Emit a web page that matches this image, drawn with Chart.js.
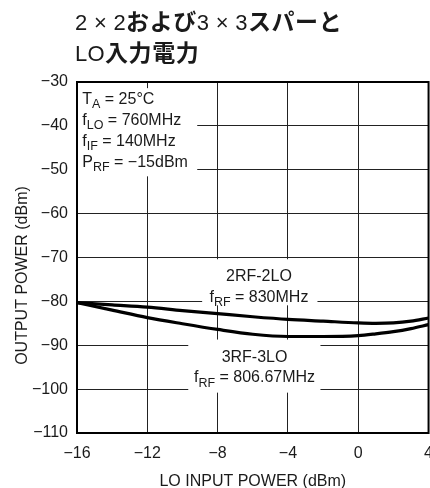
<!DOCTYPE html>
<html>
<head>
<meta charset="utf-8">
<script src="https://cdn.jsdelivr.net/npm/chart.js@4/dist/chart.umd.min.js"></script>
<style>
  html, body { margin: 0; padding: 0; background: #fff; overflow: hidden; }
  #wrap { position: relative; width: 430px; height: 488px; overflow: hidden; }
  #chart { position: absolute; left: 0; top: 0; }
  #title {
    position: absolute; left: 75px; top: 7px;
    line-height: 26px; color: #1a1a1a; white-space: nowrap;
  }
  #title .lat { font-family: "Liberation Sans", Arial, sans-serif; font-size: 22px; letter-spacing: 0.3px; }
  #title .ja  { font-family: "Noto Sans CJK JP", sans-serif; font-size: 23px; font-weight: bold; letter-spacing: 0.6px; }
</style>
</head>
<body>
<div id="wrap">
  <canvas id="chart" width="444" height="488"></canvas>
  <div id="title"><span class="lat">2 × 2</span><span class="ja">および</span><span class="lat">3 × 3</span><span class="ja">スパーと</span><br><span class="lat">LO</span><span class="ja">入力電力</span></div>
</div>
<script>
// LO drive level (dBm)
const loPower = [-16, -14, -12, -10, -8, -6, -4, -2, 0, 1, 2, 3, 4];
// 2RF-2LO spur output (dBm), fRF = 830MHz
const spur2x2 = [-80.3, -80.8, -81.3, -82.1, -82.8, -83.5, -84.1, -84.5, -84.9, -85.0, -84.9, -84.5, -83.8];
// 3RF-3LO spur output (dBm), fRF = 806.67MHz
const spur3x3 = [-80.3, -82.0, -83.7, -85.1, -86.4, -87.5, -88.0, -88.0, -87.8, -87.4, -86.9, -86.2, -85.3];

const xTicks = [-16, -12, -8, -4, 0, 4];
const yTicks = [-110, -100, -90, -80, -70, -60, -50, -40, -30];

const xTitle = 'LO INPUT POWER (dBm)';
const yTitle = 'OUTPUT POWER (dBm)';

const FONT = '"Liberation Sans", Arial, sans-serif';
const INK = '#1a1a1a';
const MAIN = '16px ' + FONT;
const SUB = '12.5px ' + FONT;

const fmt = v => (v < 0 ? '\u2212' + Math.abs(v) : String(v));

// Text blocks on white panels; anchors are in data units.
const notes = [
  { box: [-16, -31.4, -9.16, -51.5], align: 'left', x: -15.7,
    lines: [
      { y: -35.0, runs: [['T'], ['A', 1], [' = 25°C']] },
      { y: -39.7, runs: [['f'], ['LO', 1], [' = 760MHz']] },
      { y: -44.5, runs: [['f'], ['IF', 1], [' = 140MHz']] },
      { y: -49.3, runs: [['P'], ['RF', 1], [' = \u221215dBm']] }
    ] },
  { box: [-8.88, -70.4, -2.32, -80.9], align: 'center', x: -5.65,
    lines: [
      { y: -75.3, runs: [['2RF-2LO']] },
      { y: -80.1, runs: [['f'], ['RF', 1], [' = 830MHz']] }
    ] },
  { box: [-9.67, -88.7, -2.15, -100.8], align: 'center', x: -5.9,
    lines: [
      { y: -93.8, runs: [['3RF-3LO']] },
      { y: -98.4, runs: [['f'], ['RF', 1], [' = 806.67MHz']] }
    ] }
];

const notePlugin = {
  id: 'notes',
  beforeDatasetsDraw(chart) {
    const { ctx, scales: { x, y } } = chart;
    ctx.save();
    for (const n of notes) {
      const [x0, y0, x1, y1] = n.box;
      const px0 = x.getPixelForValue(x0), px1 = x.getPixelForValue(x1);
      const py0 = y.getPixelForValue(y0), py1 = y.getPixelForValue(y1);
      ctx.fillStyle = '#fff';
      ctx.fillRect(Math.min(px0, px1), Math.min(py0, py1), Math.abs(px1 - px0), Math.abs(py1 - py0));
      ctx.fillStyle = INK;
      ctx.textBaseline = 'alphabetic';
      ctx.textAlign = 'left';
      for (const line of n.lines) {
        const widths = line.runs.map(r => {
          ctx.font = r[1] ? SUB : MAIN;
          return ctx.measureText(r[0]).width;
        });
        const total = widths.reduce((a, b) => a + b, 0);
        let cx = x.getPixelForValue(n.x);
        if (n.align === 'center') cx -= total / 2;
        const by = y.getPixelForValue(line.y);
        line.runs.forEach((r, i) => {
          ctx.font = r[1] ? SUB : MAIN;
          ctx.fillText(r[0], cx, r[1] ? by + 4.5 : by);
          cx += widths[i];
        });
      }
    }
    ctx.restore();
  },
  afterDraw(chart) {
    const { ctx, chartArea: a } = chart;
    ctx.save();
    ctx.strokeStyle = '#000';
    ctx.lineWidth = 2;
    ctx.strokeRect(a.left, a.top, a.right - a.left, a.bottom - a.top);
    // axis titles
    ctx.fillStyle = INK;
    ctx.font = MAIN;
    ctx.textBaseline = 'alphabetic';
    ctx.textAlign = 'center';
    ctx.fillText(xTitle, (a.left + a.right) / 2, 486);
    ctx.translate(27, (a.top + a.bottom) / 2 + 18);
    ctx.rotate(-Math.PI / 2);
    ctx.fillText(yTitle, 0, 0);
    ctx.restore();
  }
};

const toPoints = ys => loPower.map((v, i) => ({ x: v, y: ys[i] }));

new Chart(document.getElementById('chart'), {
  type: 'line',
  data: {
    datasets: [
      { label: '2RF-2LO', data: toPoints(spur2x2), borderColor: '#000', borderWidth: 3.2,
        pointRadius: 0, tension: 0.4, cubicInterpolationMode: 'monotone', fill: false },
      { label: '3RF-3LO', data: toPoints(spur3x3), borderColor: '#000', borderWidth: 3.2,
        pointRadius: 0, tension: 0.4, cubicInterpolationMode: 'monotone', fill: false }
    ]
  },
  options: {
    responsive: false,
    animation: false,
    events: [],
    layout: { padding: { top: 82, right: 0, left: 0, bottom: 0 } },
    plugins: { legend: { display: false }, tooltip: { enabled: false }, title: { display: false } },
    scales: {
      x: {
        type: 'linear', min: -16, max: 4,
        afterBuildTicks: s => { s.ticks = xTicks.map(v => ({ value: v })); },
        afterFit: s => { s.height = 55; },
        grid: { color: '#222', lineWidth: 1, drawTicks: false },
        border: { display: false },
        ticks: { color: INK, font: { family: FONT, size: 16 }, padding: 11, maxRotation: 0, callback: fmt }
      },
      y: {
        type: 'linear', min: -110, max: -30,
        afterBuildTicks: s => { s.ticks = yTicks.map(v => ({ value: v })); },
        afterFit: s => { s.width = 77; },
        grid: { color: '#222', lineWidth: 1, drawTicks: false },
        border: { display: false },
        ticks: { color: INK, font: { family: FONT, size: 16 }, padding: 9, callback: fmt }
      }
    }
  },
  plugins: [notePlugin]
});
</script>
</body>
</html>
